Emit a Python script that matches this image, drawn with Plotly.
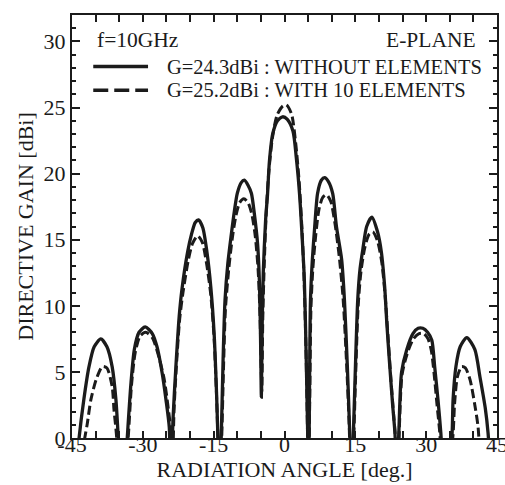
import plotly.graph_objects as go

# E-plane directive gain, f = 10 GHz
# Antenna without parasitic elements (G = 24.3 dBi)
angle_without = [
    -45.0, -43.5, -42.5, -41.4, -40.3, -38.9, -37.6, -36.5, -35.7, -35.2, -34.3,
    -33.3, -32.5, -31.8, -30.8, -29.5, -28.0, -27.0, -25.9, -25.1, -24.4, -24.1,
    -23.6, -23.0, -22.3, -21.7, -20.5, -19.7, -18.9, -18.2, -17.3, -16.4, -15.6,
    -14.9, -14.4, -14.1, -13.8,
    -13.4, -13.0, -12.6, -12.0, -11.3, -10.6, -10.0, -9.2, -8.5, -7.7, -7.0,
    -6.4, -5.7, -5.3, -5.05, -4.9,
    -4.75, -4.5, -4.0, -3.6, -3.2, -2.5, -1.5, -0.4, 0.6, 1.8, 2.5, 3.2, 3.8,
    4.2, 4.6, 4.9, 5.1,
    5.3, 5.5, 5.9, 6.4, 7.0, 7.8, 8.5, 9.3, 10.2, 11.0, 12.1, 12.7, 13.3, 13.8, 14.2,
    14.6, 14.9, 15.5, 16.0, 16.6, 17.4, 18.5, 19.7, 20.5, 21.2, 21.7, 22.3, 22.9,
    23.4, 23.8,
    24.2, 24.8, 25.9, 27.2, 28.3, 29.3, 30.3, 31.2, 31.8, 32.5, 33.1, 34.3,
    35.5, 35.7, 36.3, 37.2, 38.6, 40.3, 41.4, 42.5, 43.1, 44.0,
]
gain_without = [
    -6.0, 0.0, 2.9, 5.4, 6.9, 7.5, 6.9, 5.4, 2.9, 0.0, -6.0,
    0.0, 4.2, 6.7, 8.0, 8.4, 7.9, 6.9, 4.9, 2.9, 0.8, -4.0,
    1.5, 5.4, 9.2, 11.3, 14.1, 15.4, 16.3, 16.5, 15.9, 14.0, 11.4,
    7.9, 3.5, 0.0, -4.0,
    0.0, 6.0, 10.4, 13.2, 15.3, 17.2, 18.5, 19.3, 19.5, 19.1, 18.5,
    17.0, 14.7, 11.7, 7.0, 3.1,
    8.0, 12.5, 16.5, 18.4, 20.9, 23.0, 24.0, 24.3, 24.1, 23.2, 21.2, 18.4, 14.8,
    12.0, 6.0, 0.5, -4.0,
    4.0, 10.4, 13.5, 16.0, 18.5, 19.5, 19.7, 19.4, 18.5, 16.0, 13.5, 10.4, 5.5, 0.5, -4.0,
    0.5, 4.0, 10.4, 12.8, 14.3, 16.0, 16.7, 15.6, 14.1, 11.5, 8.5, 5.4, 2.5,
    0.3, -4.0,
    0.3, 5.0, 6.7, 7.9, 8.3, 8.3, 8.0, 7.4, 5.4, 2.9, 0.4, -6.0,
    0.4, 2.9, 5.4, 6.9, 7.6, 6.7, 4.6, 2.3, 0.4, -5.0,
]

# Antenna with 10 parasitic elements (G = 25.2 dBi)
angle_with = [
    -45.0, -42.3, -41.8, -41.0, -39.9, -38.6, -37.6, -36.5, -36.1, -35.6, -34.5,
    -33.1, -32.4, -31.6, -30.6, -29.4, -28.0, -26.9, -25.5, -24.6, -24.0, -23.8,
    -23.4, -22.9, -22.2, -21.5, -20.4, -19.5, -18.4, -17.4, -16.5, -15.6, -14.9,
    -14.4, -14.1, -13.8,
    -13.3, -12.9, -12.5, -11.8, -11.1, -10.3, -9.5, -8.6, -7.7, -6.9, -6.2,
    -5.6, -5.2, -4.95, -4.8,
    -4.6, -4.3, -3.9, -3.4, -2.6, -1.6, -0.4, 0.4, 1.5, 2.4, 3.1, 3.7, 4.1,
    4.5, 4.85, 5.05,
    5.35, 5.6, 6.0, 6.6, 7.3, 8.1, 8.9, 9.8, 10.7, 11.6, 12.4, 13.1, 13.7, 14.1,
    14.7, 15.0, 15.6, 16.2, 17.0, 17.9, 18.7, 19.7, 20.6, 21.3, 21.9, 22.5, 23.1,
    23.6, 23.9,
    24.3, 24.9, 26.0, 27.3, 28.5, 29.5, 30.4, 31.1, 31.7, 32.3, 32.9, 33.8,
    35.7, 36.0, 36.6, 37.5, 38.3, 39.3, 40.3, 41.0, 41.6, 42.5,
]
gain_with = [
    -6.0, 0.0, 1.0, 2.9, 4.4, 5.4, 5.3, 3.9, 2.1, 0.3, -6.0,
    0.0, 4.0, 6.5, 7.7, 8.0, 7.6, 6.5, 4.5, 2.2, 0.3, -4.0,
    2.0, 5.4, 9.0, 11.0, 13.4, 14.7, 15.3, 14.8, 13.2, 10.8, 7.5,
    3.3, 0.0, -4.0,
    0.0, 5.5, 9.8, 12.8, 15.0, 16.8, 17.8, 18.1, 17.8, 16.9, 15.3,
    12.8, 9.5, 5.5, 3.5,
    9.0, 13.0, 16.8, 19.8, 22.6, 24.4, 25.1, 25.2, 24.5, 22.2, 19.4, 15.8, 12.5,
    7.5, 1.0, -4.0,
    3.0, 9.8, 12.8, 15.3, 17.3, 18.2, 18.4, 17.9, 16.2, 13.7, 10.6, 6.0, 1.0, -4.0,
    0.5, 4.0, 10.0, 12.6, 14.4, 15.4, 15.6, 14.9, 13.3, 10.8, 7.8, 4.6, 1.8,
    -0.5, -4.0,
    0.5, 4.8, 6.4, 7.5, 7.9, 7.9, 7.5, 6.6, 4.8, 2.5, 0.3, -6.0,
    0.3, 2.5, 4.6, 5.4, 5.3, 4.4, 2.5, 0.8, -3.0, -8.0,
]

x_tick_vals = [-45, -30, -15, 0, 15, 30, 45]
x_tick_text = ["-45", "-30", "-15", "0", "15", "30", "45"]
y_tick_vals = [0, 5, 10, 15, 20, 25, 30]

legend_labels = [
    "G=24.3dBi : WITHOUT ELEMENTS",
    "G=25.2dBi : WITH 10 ELEMENTS",
]

INK = "#1b1b1b"
FONT = "Liberation Serif"

fig = go.Figure()
fig.add_trace(go.Scatter(
    x=angle_without, y=gain_without, mode="lines",
    line=dict(color=INK, width=3.3, shape="spline", smoothing=0.7),
    name=legend_labels[0], showlegend=False,
))
fig.add_trace(go.Scatter(
    x=angle_with, y=gain_with, mode="lines",
    line=dict(color=INK, width=3.0, dash="9px,4px", shape="spline", smoothing=0.7),
    name=legend_labels[1], showlegend=False,
))

# In-plot key: line samples and their labels
key_x0, key_x1, key_text_x = -40.5, -28.9, -25.3
key_rows = [28.1, 26.3]
fig.add_shape(type="line", xref="x", yref="y", x0=key_x0, x1=key_x1,
              y0=key_rows[0], y1=key_rows[0], line=dict(color=INK, width=3.5))
fig.add_shape(type="line", xref="x", yref="y", x0=key_x0, x1=key_x1,
              y0=key_rows[1], y1=key_rows[1],
              line=dict(color=INK, width=3.5, dash="15px,6px"))
for label, yk in zip(legend_labels, key_rows):
    fig.add_annotation(x=key_text_x, y=yk, xref="x", yref="y", text=label,
                       showarrow=False, xanchor="left", yanchor="middle",
                       font=dict(family=FONT, size=20.5, color=INK))

fig.add_annotation(x=-40.1, y=30.1, xref="x", yref="y", text="f=10GHz",
                   showarrow=False, xanchor="left", yanchor="middle",
                   font=dict(family=FONT, size=21.5, color=INK))
fig.add_annotation(x=41.0, y=30.1, xref="x", yref="y", text="E-PLANE",
                   showarrow=False, xanchor="right", yanchor="middle",
                   font=dict(family=FONT, size=21.5, color=INK))

axis_common = dict(
    showgrid=False, zeroline=False, showline=True, linecolor=INK, linewidth=2,
    mirror="allticks", ticks="inside", tickcolor=INK, tickwidth=1.5,
    tickfont=dict(family=FONT, size=22, color=INK), ticklabeloverflow="allow",
)

fig.update_xaxes(
    range=[-45, 45], tickvals=x_tick_vals, ticktext=x_tick_text, ticklen=7,
    ticklabelstandoff=-14,
    minor=dict(ticks="inside", dtick=5, tick0=0, ticklen=7, tickcolor=INK, tickwidth=1.5),
    title=dict(text="RADIATION ANGLE [deg.]", font=dict(family=FONT, size=22, color=INK),
               standoff=2),
    **axis_common,
)
fig.update_yaxes(
    range=[0, 32], tickvals=y_tick_vals, ticklen=8,
    minor=dict(ticks="inside", dtick=1, tick0=0, ticklen=4, tickcolor=INK, tickwidth=1.5),
    title=dict(text="DIRECTIVE GAIN [dBi]", font=dict(family=FONT, size=22, color=INK),
               standoff=4),
    **axis_common,
)

fig.update_layout(
    width=505, height=485,
    margin=dict(l=72, r=8, t=15, b=47, autoexpand=False),
    paper_bgcolor="white", plot_bgcolor="white",
    showlegend=False,
)

fig.write_html("out.html")
